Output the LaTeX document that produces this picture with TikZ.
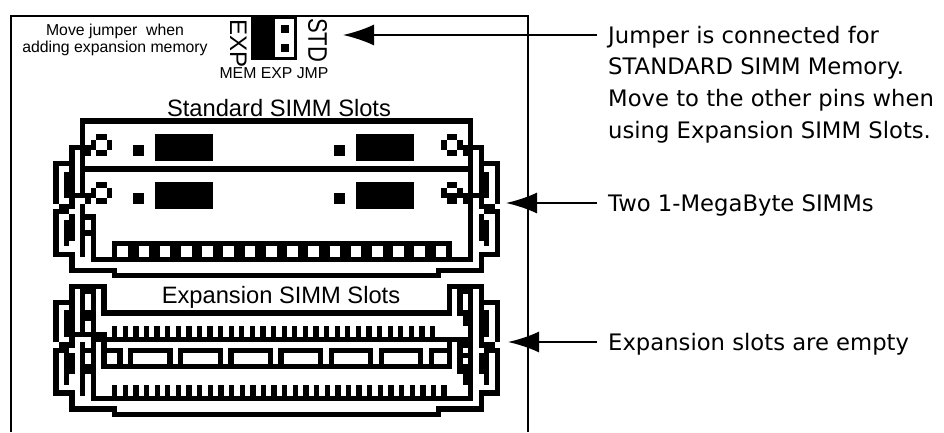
\documentclass[tikz,border=0pt]{standalone}
\usepackage{fontspec}
\setmainfont{Liberation Sans}
\newfontfamily\lucidalike{DejaVu Sans}
\usetikzlibrary{arrows.meta}
\newcommand{\fsz}[1]{\fontsize{#1}{#1}\selectfont}
% inclusive cell ranges: col1 row1 col2 row2
\newcommand{\cel}[4]{\fill (#1,#2) rectangle ({#3+1},{#4+1});}
\newcommand{\ringart}[1]{%
  \cel{8}{#1}{9}{#1}\cel{7}{\numexpr#1+1\relax}{7}{\numexpr#1+2\relax}%
  \cel{10}{\numexpr#1+1\relax}{10}{\numexpr#1+2\relax}\cel{8}{\numexpr#1+3\relax}{9}{\numexpr#1+3\relax}%
  \cel{6}{\numexpr#1+2\relax}{6}{\numexpr#1+3\relax}}
\newcommand{\sharedart}{%
  % upper module
  \cel{5}{0}{5}{5}\cel{3}{5}{6}{5}\cel{3}{5}{3}{16}
  \ringart{3}\ringart{12}
  \cel{5}{6}{5}{14}\cel{3}{14}{6}{14}
  \cel{0}{8}{3}{8}\cel{0}{8}{0}{15}\cel{2}{10}{2}{14}
  \cel{1}{16}{3}{16}\cel{0}{17}{2}{17}\cel{0}{17}{0}{25}
  \cel{2}{19}{2}{23}\cel{3}{18}{3}{22}
  \cel{0}{25}{3}{25}\cel{3}{25}{3}{28}\cel{3}{28}{11}{28}\cel{11}{29}{12}{29}
  \cel{5}{16}{5}{25}
  % lower module
  \cel{3}{31}{9}{31}\cel{3}{31}{3}{41}\cel{9}{31}{9}{36}
  \cel{5}{32}{7}{32}\cel{5}{32}{5}{40}
  \cel{0}{34}{3}{34}\cel{0}{34}{0}{41}\cel{2}{36}{2}{40}
  \cel{1}{42}{3}{42}\cel{0}{43}{2}{43}\cel{0}{43}{0}{51}
  \cel{2}{44}{2}{49}\cel{3}{44}{3}{47}
  \cel{0}{51}{3}{51}\cel{3}{51}{3}{54}\cel{3}{54}{11}{54}\cel{11}{55}{12}{55}
  \cel{5}{42}{5}{51}
}
\begin{document}
\begin{tikzpicture}[x=1pt,y=-1pt,
  frameline/.style={line width=2.2pt,line join=miter},
  smalltxt/.style={font=\fsz{15.8},inner sep=0pt,align=center},
  titletxt/.style={font=\fsz{23.7},inner sep=0pt},
  sidetxt/.style={font=\lucidalike\fsz{22.7},inner sep=0pt,anchor=west,align=left},
  callout/.style={line width=2pt,-{Latex[length=31pt,width=21pt]}}]
\useasboundingbox (0,0) rectangle (944,432);
\fill[white] (0,0) rectangle (944,432);
\draw[frameline] (10.7,432) -- (10.7,15.8) -- (528.3,15.8) -- (528.3,432);
% jumper
\fill (251,15) rectangle (297,60);
\fill[white] (275,19) rectangle (294,57);
\fill (281,25) rectangle (289,33);
\fill (281,44) rectangle (289,52);
\node[smalltxt] (hint) at (115,40) {Move jumper\ \ when\\[0.4pt]adding expansion memory};
\node[font=\fsz{24},inner sep=0pt,rotate=-90] (exp) at (238.5,43.5) {EXP};
\node[font=\fsz{22},inner sep=0pt,rotate=-90] (std) at (317.5,40) {\scalebox{1}[1.22]{STD}};
\node[smalltxt] (jmp) at (274,73) {MEM EXP JMP};
\node[titletxt] (t1) at (279,108.5) {Standard SIMM Slots};
\node[titletxt] (t2) at (281,297) {Expansion SIMM Slots};
% pixel art
\begin{scope}[shift={(53.33,118.33)},x=5.333pt,y=-5.333pt]
  \sharedart
  % long horizontals
  \cel{5}{0}{77.75}{0}
  \cel{5}{9}{77.75}{9}
  % chips
  \foreach \r in {3,12}{
    \fill (19,\r) rectangle (30,\r+5);
    \fill (56.7,\r) rectangle (67.7,\r+5);
    \fill (15,\r+2) rectangle (17,\r+4);
    \fill (52.6,\r+2) rectangle (54.7,\r+4);
  }
  % pin row
  \fill (11,23) rectangle (74.7,27);
  \foreach \k in {0,...,15}{\fill[white] ({12+3.98*\k},24) rectangle ({14+3.98*\k},26);}
  \cel{7}{26}{77.75}{26}
  \cel{7}{19}{7}{26}\cel{6}{18}{7}{18}\cel{6}{21}{7}{21}
  % outer bottoms
  \cel{11}{29}{71.75}{29}
  \cel{11}{55}{71.75}{55}
  % lower module lines
  \cel{9}{36}{73.75}{36}
  \cel{7}{32}{7}{41}\cel{6}{36}{6}{37}\cel{3}{40}{9}{40}
  \cel{8}{41}{77.75}{41}
  \cel{7}{41}{7}{52}\cel{6}{43}{6}{43}\cel{6}{46}{6}{47}
  \cel{9}{41}{9}{46}
  \cel{9}{43}{72.75}{43}
  \cel{9}{46}{72.75}{46}
  \cel{7}{52}{77.75}{52}
  % slot dividers
  \foreach \k in {0,...,6}{
    \pgfmathsetmacro{\nc}{13+9.4*\k}
    \fill ({\nc-1},43) rectangle ({\nc+2},46);
    \fill[white] (\nc,43) rectangle ({\nc+1},46);
  }
  % teeth
  \foreach \k in {0,...,30}{\fill ({11+1.987*\k},39) rectangle ({12+1.987*\k},41);}
  \foreach \k in {0,...,31}{\fill ({11+1.993*\k},50) rectangle ({12+1.993*\k},52);}
\end{scope}
\begin{scope}[shift={(500,118.33)},x=-5.333pt,y=-5.333pt]
  \sharedart
  \cel{5}{15}{6}{15}
  \cel{8}{14}{9}{14}
  % right side of the lower module
  \cel{7}{33}{7}{36}\cel{6}{36}{6}{38}
  \cel{9}{41}{9}{46}
  \cel{7}{42}{7}{47}\cel{6}{42}{6}{42}\cel{6}{44}{6}{44}\cel{6}{46}{6}{49}
\end{scope}
% callouts
\node[sidetxt] (lab1) at (608,84.5) {Jumper is connected for\\[9pt]STANDARD SIMM Memory.\\[9pt]Move to the other pins when\\[9pt]using Expansion SIMM Slots.};
\node[sidetxt] (lab2) at (608,205) {Two 1-MegaByte SIMMs};
\node[sidetxt] (lab3) at (608,344) {Expansion slots are empty};
\coordinate (s1) at (597,35); \coordinate (e1) at (343,35);
\coordinate (s2) at (597,203); \coordinate (e2) at (506,203);
\coordinate (s3) at (597,342); \coordinate (e3) at (508,342);
\draw[callout] (s1) -- (e1);
\draw[callout] (s2) -- (e2);
\draw[callout] (s3) -- (e3);
\end{tikzpicture}
\end{document}
